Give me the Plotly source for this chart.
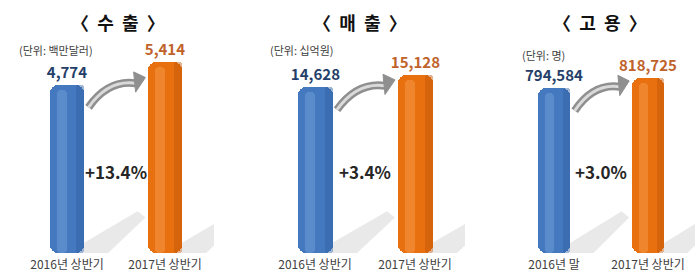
import plotly.graph_objects as go

# ---- data ----
titles = ["〈 수 출 〉", "〈 매 출 〉", "〈 고 용 〉"]
units = ["(단위: 백만달러)", "(단위: 십억원)", "(단위: 명)"]
cat_labels = [["2016년 상반기", "2017년 상반기"],
              ["2016년 상반기", "2017년 상반기"],
              ["2016년 말", "2017년 상반기"]]
values_2016 = [4774, 14628, 794584]
values_2017 = [5414, 15128, 818725]
growth = ["+13.4%", "+3.4%", "+3.0%"]

# ---- layout settings ----
W, H = 700, 275
x_domains_px = [(18, 214), (265, 465), (507, 695)]
axis_min = [0, 7700, 396000]
axis_max = [7171, 18257, 1007140]
title_x_px = [118, 360, 600]
unit_x_px = [17, 268, 520]
unit_y_px = [50, 50, 55]
y_dom = [22 / H, 1.0]

BLUE_DARK, BLUE, BLUE_HI = "#2f5f9f", "#4479c0", "#76a3dc"
ORG_DARK, ORG, ORG_HI = "#c2560a", "#e8700e", "#f8a255"
BLUE_TXT, ORG_TXT = "#253f6a", "#c0632b"
FONT = "Noto Sans CJK KR"

fig = go.Figure()
shapes, annotations = [], []
layout_axes = {}

for i in range(3):
    xa = "x" if i == 0 else f"x{i+1}"
    ya = "y" if i == 0 else f"y{i+1}"
    vals = [values_2016[i], values_2017[i]]
    lo, hi = axis_min[i], axis_max[i]
    span = hi - lo

    # main bars
    fig.add_trace(go.Bar(
        x=[0, 1], y=[v - lo for v in vals], base=lo,
        width=0.35, marker=dict(color=[BLUE, ORG], cornerradius=8,
                                line=dict(width=0)),
        text=[f"<b>{v:,}</b>" for v in vals], textposition="outside",
        constraintext="none",
        textfont=dict(family=FONT, size=15, color=[BLUE_TXT, ORG_TXT]),
        cliponaxis=False, hoverinfo="skip", xaxis=xa, yaxis=ya,
        showlegend=False))
    # edge shading (right side darker)
    fig.add_trace(go.Bar(
        x=[0, 1], y=[v - lo for v in vals], base=lo,
        width=0.08, offset=0.095,
        marker=dict(color=[BLUE_DARK, ORG_DARK], opacity=0.45, cornerradius=3,
                    line=dict(width=0)),
        hoverinfo="skip", xaxis=xa, yaxis=ya, showlegend=False))
    # highlight stripe
    fig.add_trace(go.Bar(
        x=[0, 1], y=[v - lo - span * 0.02 for v in vals], base=lo,
        width=0.1, offset=-0.1,
        marker=dict(color=[BLUE_HI, ORG_HI], opacity=0.45, cornerradius=4,
                    line=dict(width=0)),
        hoverinfo="skip", xaxis=xa, yaxis=ya, showlegend=False))

    def Y(f):
        return lo + f * span

    # floor shadows
    for j in range(2):
        path = (f"M {j+0.17},{Y(0.0)} L {j+0.17},{Y(0.04)} L {j+0.72},{Y(0.165)} "
                f"L {j+0.8},{Y(0.14)} L {j+0.42},{Y(0.0)} Z")
        shapes.append(dict(type="path", path=path, xref=xa, yref=ya,
                           fillcolor="rgba(200,200,200,0.4)",
                           line=dict(width=0), layer="below"))

    # curved arrow
    f1 = (vals[0] - lo) / span
    p0 = (0.22, Y(f1 - 0.09))
    c = (0.42, Y(f1 + 0.02))
    p2 = (0.70, Y(f1 + 0.005))
    curve = f"M {p0[0]},{p0[1]} Q {c[0]},{c[1]} {p2[0]},{p2[1]}"
    shapes.append(dict(type="path", path=curve, xref=xa, yref=ya,
                       line=dict(color="#8f8f8f", width=8)))
    shapes.append(dict(type="path", path=curve, xref=xa, yref=ya,
                       line=dict(color="#dadada", width=3)))
    head = (f"M 0.68,{Y(f1 + 0.05)} L 0.80,{Y(f1 + 0.028)} "
            f"L 0.70,{Y(f1 - 0.03)} Z")
    shapes.append(dict(type="path", path=head, xref=xa, yref=ya,
                       fillcolor="#8f8f8f", line=dict(color="#8f8f8f", width=1)))

    # annotations
    annotations.append(dict(text=f"<b>{growth[i]}</b>", x=0.5, y=(H - 171) / H,
                            xref=xa, yref="paper", showarrow=False,
                            font=dict(family=FONT, size=17, color="#262626"),
                            xanchor="center", yanchor="middle"))
    annotations.append(dict(text=f"<b>{titles[i].replace(' ', '  ')}</b>",
                            x=title_x_px[i] / W,
                            y=(H - 22) / H, xref="paper", yref="paper",
                            showarrow=False, xanchor="center", yanchor="middle",
                            font=dict(family=FONT, size=18, color="#111111")))
    annotations.append(dict(text=units[i], x=unit_x_px[i] / W,
                            y=(H - unit_y_px[i]) / H, xref="paper", yref="paper",
                            showarrow=False, xanchor="left", yanchor="middle",
                            font=dict(family=FONT, size=11, color="#404040")))

    d = x_domains_px[i]
    layout_axes["xaxis" if i == 0 else f"xaxis{i+1}"] = dict(
        domain=[d[0] / W, d[1] / W], range=[-0.5, 1.5], anchor=ya,
        tickvals=[0, 1], ticktext=cat_labels[i], showgrid=False,
        zeroline=False, showline=False, ticks="", ticklen=0,
        ticklabelstandoff=3,
        tickfont=dict(family=FONT, size=12, color="#404040"), fixedrange=True)
    layout_axes["yaxis" if i == 0 else f"yaxis{i+1}"] = dict(
        domain=y_dom, range=[lo, hi], anchor=xa, visible=False,
        fixedrange=True)

fig.update_layout(
    width=W, height=H, margin=dict(l=0, r=0, t=0, b=0),
    paper_bgcolor="white", plot_bgcolor="rgba(0,0,0,0)",
    barmode="overlay", bargap=0, showlegend=False,
    shapes=shapes, annotations=annotations,
    font=dict(family=FONT), **layout_axes)

fig.write_html("out.html")
